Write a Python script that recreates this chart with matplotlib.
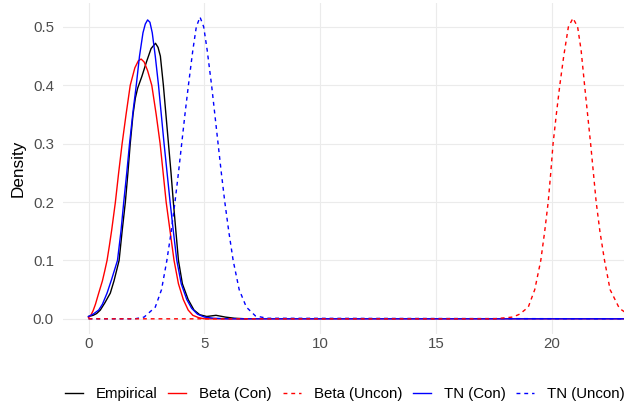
import matplotlib
matplotlib.use("Agg")
import matplotlib.pyplot as plt
from matplotlib.lines import Line2D

plt.rcParams["font.family"] = ["Liberation Sans", "DejaVu Sans"]

# Empirical density
emp_x = [0, 0.2, 0.35, 0.51, 0.7, 0.94, 1.1, 1.32, 1.45, 1.59, 1.7, 1.8, 1.92,
         2.02, 2.12, 2.3, 2.5, 2.7, 2.89, 3.0, 3.1, 3.23, 3.34, 3.45, 3.56,
         3.66, 3.77, 3.88, 4.05, 4.3, 4.55, 4.8, 5.1, 5.5, 5.9, 6.3, 6.8]
emp_y = [0.004, 0.006, 0.009, 0.015, 0.027, 0.044, 0.065, 0.10, 0.15, 0.20,
         0.25, 0.30, 0.35, 0.378, 0.395, 0.415, 0.44, 0.463, 0.472, 0.465,
         0.45, 0.40, 0.35, 0.30, 0.25, 0.20, 0.15, 0.10, 0.06, 0.033, 0.015,
         0.007, 0.004, 0.006, 0.003, 0.001, 0]

# Beta (constrained)
beta_con_x = [0, 0.1, 0.2, 0.3, 0.44, 0.6, 0.7, 0.8, 0.9, 1.0, 1.16, 1.3,
              1.45, 1.62, 1.8, 2.0, 2.15, 2.27, 2.4, 2.55, 2.73, 2.92, 3.09,
              3.22, 3.35, 3.52, 3.69, 3.88, 4.09, 4.3, 4.5, 4.75, 5.0, 24]
beta_con_y = [0.002, 0.006, 0.014, 0.025, 0.044, 0.065, 0.082, 0.10, 0.125,
              0.152, 0.20, 0.25, 0.30, 0.35, 0.40, 0.43, 0.442, 0.445, 0.44,
              0.425, 0.40, 0.35, 0.30, 0.25, 0.20, 0.15, 0.10, 0.06, 0.033,
              0.015, 0.006, 0.002, 0, 0]

# Beta (unconstrained)
beta_unc_x = [0, 17.5, 18.3, 18.6, 18.97, 19.25, 19.51, 19.68, 19.83, 19.94,
              20.04, 20.18, 20.33, 20.5, 20.7, 20.9, 21.1, 21.25, 21.4, 21.53,
              21.66, 21.78, 21.9, 22.06, 22.26, 22.5, 22.9, 23.3]
beta_unc_y = [0, 0, 0.003, 0.008, 0.02, 0.05, 0.10, 0.15, 0.20, 0.25, 0.30,
              0.35, 0.40, 0.45, 0.50, 0.515, 0.50, 0.46, 0.40, 0.35, 0.30,
              0.25, 0.20, 0.15, 0.10, 0.05, 0.018, 0.007]

# Truncated normal (constrained)
tn_con_x = [0, 0.2, 0.44, 0.6, 0.8, 1.0, 1.25, 1.4, 1.52, 1.65, 1.77, 1.92,
            2.06, 2.2, 2.35, 2.45, 2.55, 2.65, 2.75, 2.88, 3.02, 3.14, 3.26,
            3.39, 3.52, 3.66, 3.81, 4.0, 4.24, 4.45, 4.7, 5.0, 5.4, 6.0, 24]
tn_con_y = [0.004, 0.008, 0.015, 0.025, 0.044, 0.068, 0.10, 0.15, 0.20, 0.25,
            0.30, 0.355, 0.40, 0.45, 0.49, 0.505, 0.512, 0.508, 0.49, 0.45,
            0.40, 0.35, 0.30, 0.25, 0.20, 0.15, 0.10, 0.06, 0.033, 0.018,
            0.008, 0.003, 0.001, 0, 0]

# Truncated normal (unconstrained)
tn_unc_x = [0, 2.0, 2.4, 2.88, 3.15, 3.38, 3.57, 3.73, 3.88, 4.02, 4.16, 4.31,
            4.5, 4.65, 4.81, 4.97, 5.12, 5.31, 5.45, 5.59, 5.73, 5.88, 6.05,
            6.24, 6.5, 6.81, 7.2, 7.7, 24]
tn_unc_y = [0, 0, 0.003, 0.02, 0.05, 0.10, 0.15, 0.20, 0.25, 0.30, 0.35, 0.40,
            0.46, 0.50, 0.517, 0.50, 0.46, 0.40, 0.35, 0.30, 0.25, 0.20, 0.15,
            0.10, 0.05, 0.02, 0.005, 0.001, 0]

labels = ["Empirical", "Beta (Con)", "Beta (Uncon)", "TN (Con)", "TN (Uncon)"]
x_ticks = [0, 5, 10, 15, 20]
y_ticks = [0.0, 0.1, 0.2, 0.3, 0.4, 0.5]

dash = (0, (2.8, 2.8))
lw = 1.0
fs = 10.8

fig = plt.figure(figsize=(6.24, 4.09), dpi=100)
ax = fig.add_axes([63 / 624, 1 - 334 / 409, 561 / 624, 331 / 409])

ax.plot(emp_x, emp_y, color="black", lw=lw)
ax.plot(beta_con_x, beta_con_y, color="red", lw=lw)
ax.plot(tn_con_x, tn_con_y, color="blue", lw=lw)
ax.plot(tn_unc_x, tn_unc_y, color="blue", lw=lw, linestyle=dash)
ax.plot(beta_unc_x, beta_unc_y, color="red", lw=lw, linestyle=dash)

ax.set_xlim(-1.1, 23.1)
ax.set_ylim(-0.026, 0.541)
ax.set_xticks(x_ticks)
ax.set_yticks(y_ticks)
ax.set_yticklabels([f"{v:.1f}" for v in y_ticks])
ax.grid(True, color="#EBEBEB", lw=0.8)
ax.set_axisbelow(True)
for s in ax.spines.values():
    s.set_visible(False)
ax.tick_params(axis="both", length=0, labelsize=fs, labelcolor="#4D4D4D")
ax.tick_params(axis="y", pad=6.5)
ax.tick_params(axis="x", pad=2.5)

ax.set_ylabel("Density", fontsize=12.3, color="black")
ax.yaxis.set_label_coords(-0.066, 0.5)

# legend at the bottom
handles = [
    Line2D([], [], color="black", lw=lw),
    Line2D([], [], color="red", lw=lw),
    Line2D([], [], color="red", lw=lw, linestyle=dash),
    Line2D([], [], color="blue", lw=lw),
    Line2D([], [], color="blue", lw=lw, linestyle=dash),
]
fig.legend(handles, labels, loc="center", bbox_to_anchor=(345 / 624, 1 - 394 / 409),
           ncol=5, frameon=False, fontsize=fs, handlelength=1.2,
           handletextpad=0.86, columnspacing=0.72)

fig.set_facecolor("white")
fig.savefig("out.png", dpi=100)
